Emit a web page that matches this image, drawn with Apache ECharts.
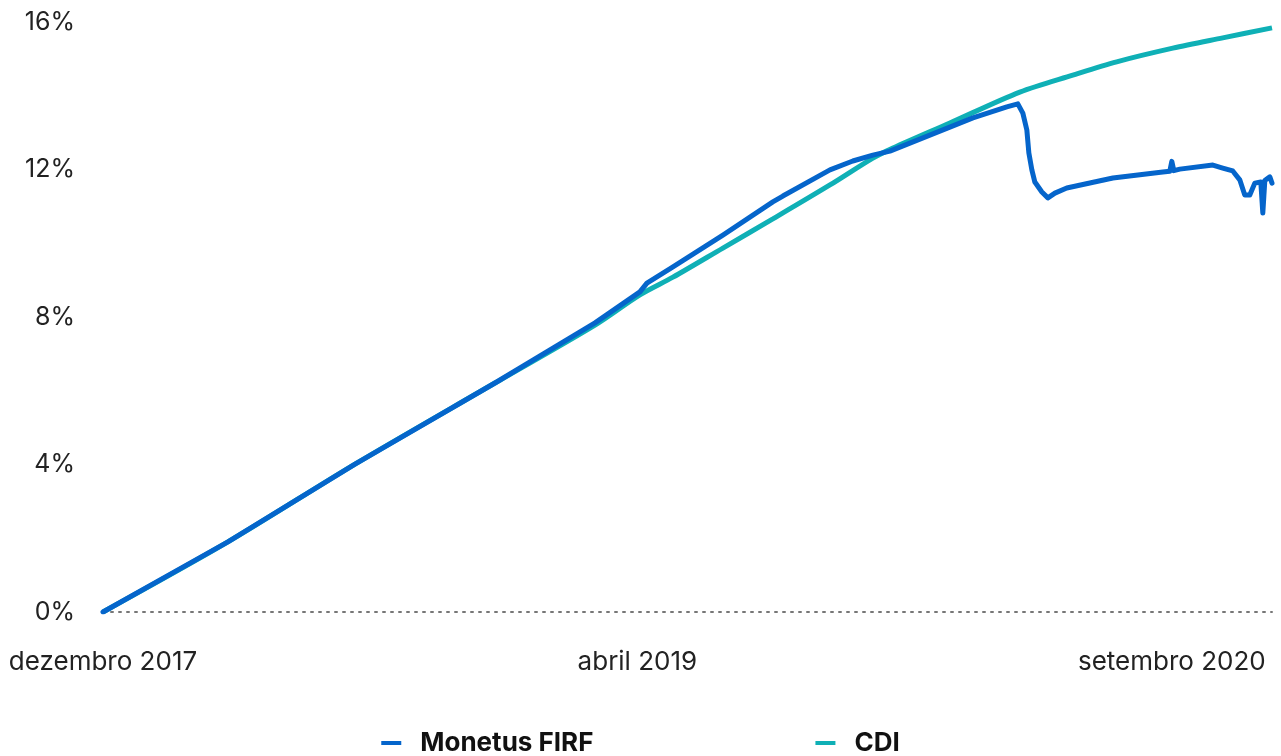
<!DOCTYPE html>
<html>
<head>
<meta charset="utf-8">
<script src="https://cdn.jsdelivr.net/npm/echarts@6/dist/echarts.min.js"></script>
<style>
html,body{margin:0;padding:0;background:#fff;}
#chart{width:1281px;height:756px;}
</style>
</head>
<body>
<div id="chart"></div>
<script>
// x positions are an index scale: 0 = dezembro 2017, 32 = abril 2019, 64 = setembro 2020
var tickPositions = [0, 32, 64];
var tickLabels = ['dezembro 2017', 'abril 2019', 'setembro 2020'];
var yTicks = [0, 4, 8, 12, 16];

var monetusX = [0, 7.48, 15.09, 23.47, 29.46, 32.15, 32.57, 34.13, 37.12, 40.11, 40.71, 43.53, 44.90, 46.10, 47.12, 50.71, 52.09, 54.12, 54.78, 55.08, 55.32, 55.44, 55.62, 55.80, 56.22, 56.58, 57.00, 57.71, 60.47, 63.46, 63.88, 64.00, 64.12, 64.48, 66.46, 67.05, 67.65, 68.07, 68.37, 68.67, 68.97, 69.33, 69.45, 69.57, 69.87, 70.00];
var monetusY = [0, 1.90, 4.01, 6.21, 7.84, 8.68, 8.92, 9.36, 10.22, 11.12, 11.28, 11.99, 12.23, 12.39, 12.50, 13.15, 13.40, 13.70, 13.78, 13.53, 13.07, 12.45, 11.99, 11.66, 11.39, 11.23, 11.36, 11.50, 11.77, 11.93, 11.95, 12.22, 11.97, 12.01, 12.12, 12.04, 11.96, 11.72, 11.31, 11.31, 11.63, 11.66, 10.82, 11.70, 11.80, 11.63];

var cdiX = [0, 7.48, 15.09, 23.47, 29.46, 32.15, 34.13, 37.12, 40.11, 43.53, 46.10, 47.30, 50.71, 54.90, 58.07, 60.70, 64.06, 67.05, 70.00];
var cdiY = [0, 1.90, 4.01, 6.21, 7.78, 8.60, 9.08, 9.87, 10.66, 11.58, 12.31, 12.58, 13.26, 14.10, 14.56, 14.92, 15.29, 15.57, 15.84];

function pairs(xs, ys) { return xs.map(function (x, i) { return [x, ys[i]]; }); }

var chart = echarts.init(document.getElementById('chart'));
var font = 'Inter, "Noto Sans", sans-serif';
chart.setOption({
  animation: false,
  backgroundColor: '#ffffff',
  grid: { left: 103, right: 9, top: 22, bottom: 144, containLabel: false },
  legend: {
    data: ['Monetus FIRF', 'CDI'],
    bottom: -5,
    left: 'center',
    itemGap: 222,
    itemWidth: 20,
    itemHeight: 4,
    icon: 'rect',
    textStyle: { fontFamily: font, fontSize: 26, fontWeight: 'bold', color: '#111', padding: [0, 0, 0, 14] }
  },
  xAxis: {
    type: 'value',
    min: 0,
    max: 70,
    interval: 32,
    splitLine: { show: false },
    axisTick: { show: false },
    axisLine: { show: true, onZero: true, lineStyle: { color: '#777', width: 2, type: [2, 6] } },
    axisLabel: {
      showMaxLabel: false,
      margin: 37,
      fontFamily: font, fontSize: 26, color: '#222',
      formatter: function (v) {
        var i = tickPositions.indexOf(v);
        return i >= 0 ? tickLabels[i] : '';
      }
    }
  },
  yAxis: {
    type: 'value',
    min: yTicks[0],
    max: yTicks[yTicks.length - 1],
    interval: 4,
    splitLine: { show: false },
    axisLine: { show: false },
    axisTick: { show: false },
    axisLabel: { margin: 28, fontFamily: font, fontSize: 25, color: '#222', formatter: '{value}%' }
  },
  series: [
    {
      name: 'Monetus FIRF', type: 'line', showSymbol: false, z: 4,
      data: pairs(monetusX, monetusY),
      lineStyle: { color: '#0565CB', width: 5, join: 'round', cap: 'round' },
      itemStyle: { color: '#0565CB' }
    },
    {
      name: 'CDI', type: 'line', showSymbol: false, smooth: 0.3, z: 3,
      data: pairs(cdiX, cdiY),
      lineStyle: { color: '#0FB0B6', width: 5 },
      itemStyle: { color: '#0FB0B6' }
    }
  ]
});
</script>
</body>
</html>
